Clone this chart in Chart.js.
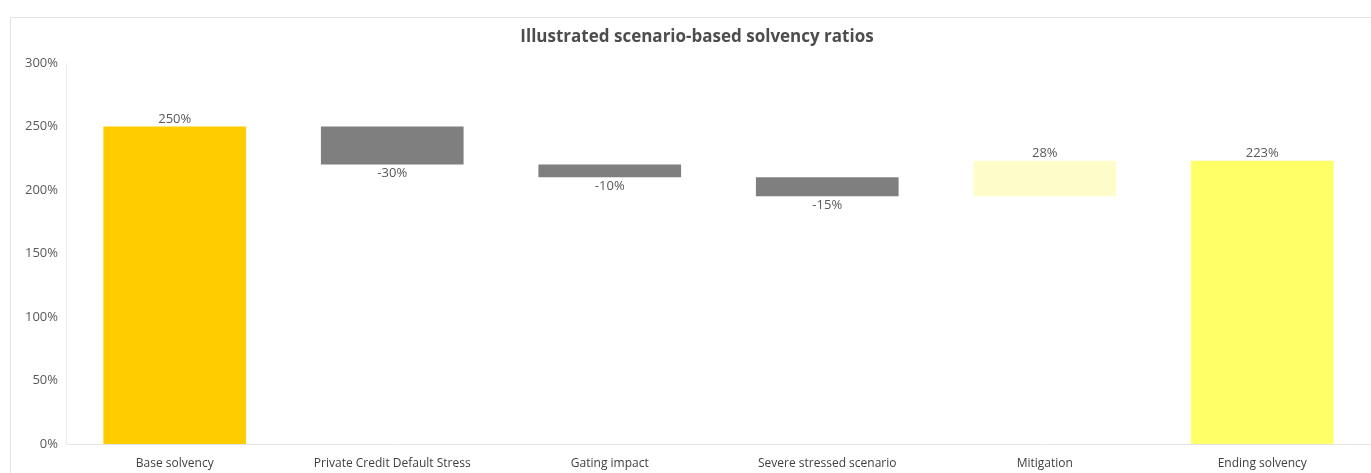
<!DOCTYPE html>
<html>
<head>
<meta charset="utf-8">
<script src="https://cdn.jsdelivr.net/npm/chart.js@4.4.1/dist/chart.umd.min.js"></script>
<style>
  html, body { margin: 0; padding: 0; background: #ffffff; overflow: hidden; }
  #wrap { position: relative; width: 1371px; height: 473px; }
  #frame { position: absolute; left: 10px; top: 17px; width: 1400px; height: 500px;
           border-top: 1px solid #e3e3e3; border-left: 1px solid #e3e3e3; box-sizing: border-box; }
  canvas { position: absolute; left: 0; top: 0; }
</style>
</head>
<body>
<div id="wrap">
  <div id="frame"></div>
  <canvas id="c" width="1371" height="473"></canvas>
</div>
<script>
// Waterfall steps: starting level, movements, ending level (in %)
const categories = ['Base solvency', 'Private Credit Default Stress', 'Gating impact',
                    'Severe stressed scenario', 'Mitigation', 'Ending solvency'];
const baseLevel = 250;
const movements = [-30, -10, -15, 28];
const endingLevel = 223;
const yTicks = [0, 50, 100, 150, 200, 250, 300];
const barColors = ['#FFCC00', '#7F7F7F', '#7F7F7F', '#7F7F7F', '#FEFDC9', '#FFFF66'];

// Build floating [from, to] ranges from the step values
const ranges = [[0, baseLevel]];
const labelValues = [baseLevel];
let level = baseLevel;
movements.forEach(m => {
  ranges.push([level, level + m]);
  labelValues.push(m);
  level += m;
});
ranges.push([0, endingLevel]);
labelValues.push(endingLevel);

const FONT = '"Open Sans", "Noto Sans", "DejaVu Sans", sans-serif';

const valueLabels = {
  id: 'valueLabels',
  afterDatasetsDraw(chart) {
    const ctx = chart.ctx;
    const meta = chart.getDatasetMeta(0);
    ctx.save();
    ctx.font = '13px ' + FONT;
    ctx.fillStyle = '#595959';
    ctx.textAlign = 'center';
    meta.data.forEach((bar, i) => {
      const v = labelValues[i];
      const top = Math.min(bar.y, bar.base);
      const bottom = Math.max(bar.y, bar.base);
      if (v < 0) {
        ctx.textBaseline = 'top';
        ctx.fillText(v + '%', bar.x, bottom + 2);
      } else {
        ctx.textBaseline = 'bottom';
        ctx.fillText(v + '%', bar.x, top - 1);
      }
    });
    ctx.restore();
  }
};

const titlePlugin = {
  id: 'titleText',
  afterDraw(chart) {
    const ctx = chart.ctx;
    ctx.save();
    ctx.font = 'bold 17px ' + FONT;
    ctx.fillStyle = '#4d4d4d';
    ctx.textAlign = 'center';
    ctx.textBaseline = 'middle';
    ctx.fillText('Illustrated scenario-based solvency ratios', 697, 37);
    ctx.restore();
  }
};

new Chart(document.getElementById('c'), {
  type: 'bar',
  data: {
    labels: categories,
    datasets: [{
      data: ranges,
      backgroundColor: barColors,
      borderWidth: 0,
      borderSkipped: false,
      categoryPercentage: 1.0,
      barPercentage: 0.656
    }]
  },
  options: {
    responsive: false,
    animation: false,
    layout: { padding: { top: 63, left: 0, right: 0, bottom: 0 } },
    plugins: { legend: { display: false }, tooltip: { enabled: false }, title: { display: false } },
    scales: {
      x: {
        grid: { display: false, drawTicks: false },
        border: { display: true, color: '#e6e6e6', width: 1 },
        ticks: { color: '#404040', font: { family: FONT, size: 12 }, padding: 12, maxRotation: 0, autoSkip: false },
        afterFit(scale) { scale.height = 29; }
      },
      y: {
        min: 0, max: 300,
        afterBuildTicks(scale) { scale.ticks = yTicks.map(v => ({ value: v })); },
        grid: { display: false, drawTicks: false },
        border: { display: true, color: '#ececec', width: 1 },
        ticks: { color: '#595959', font: { family: FONT, size: 13 }, padding: 8,
                 callback: v => v + '%' },
        afterFit(scale) { scale.width = 66; }
      }
    }
  },
  plugins: [valueLabels, titlePlugin]
});
</script>
</body>
</html>
